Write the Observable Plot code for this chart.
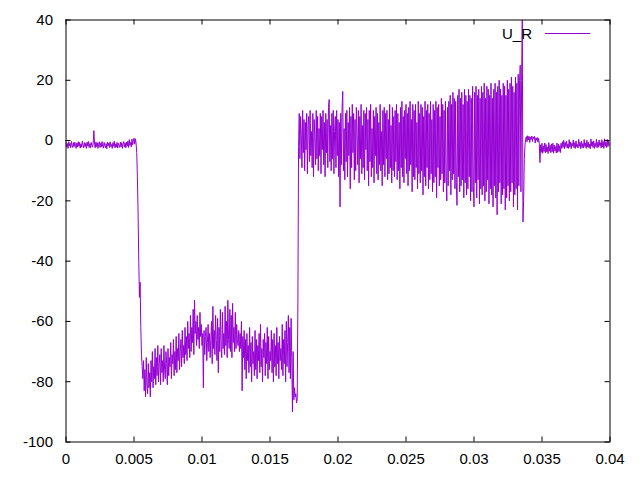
<!DOCTYPE html>
<html>
<head>
<meta charset="utf-8">
<script src="https://cdn.jsdelivr.net/npm/d3@7"></script>
<script src="https://cdn.jsdelivr.net/npm/@observablehq/plot@0.6"></script>
<style>
  html, body { margin: 0; padding: 0; background: white; }
</style>
</head>
<body>
<div id="chart"></div>
<script>
// ---- data ----
const seriesName = "U_R";
const lineColor = "#9400d3";
const sampleStep = 0.00005; // seconds between samples, starting at t = 0

// t = 0 .. 0.00515
const preFault = [
  -0.6,-2.2,-1.0,-2.6,-0.4,-1.8,-0.9,-2.4,-0.3,-1.5,
  -2.3,-0.7,-2.0,-0.5,-1.7,-2.6,-0.8,-2.1,-0.4,-1.9,
  -0.6,-2.5,-1.1,-2.2,-0.2,-1.6,-2.4,-0.7,-2.0,-0.9,
  -2.6,-0.5,-1.8,-0.3,-2.3,-1.0,-2.5,-0.6,-1.7,-2.2,
  -0.8,3.3,-1.4,-2.4,-0.5,-2.0,-0.7,-2.6,-1.2,-0.4,
  -2.3,-0.9,-2.1,-0.3,-1.9,-2.5,-0.6,-1.6,-2.4,-1.0,
  -2.7,-0.5,-1.8,-0.8,-2.3,-0.4,-2.0,-1.3,-2.6,-0.7,
  -1.9,-0.2,-2.4,-1.1,-2.2,-0.6,-2.5,-0.9,-1.7,-2.3,
  -0.5,-2.1,-0.7,-2.6,-1.0,-0.3,-2.2,-0.8,-2.4,-0.5,
  -1.8,-0.2,-2.3,0.3,-1.6,-0.6,-2.1,0.5,-1.4,-0.4,
  0.8,-1.2,0.6,-0.8
];
// t = 0.0052 .. 0.0056
const drop = [-4,-12,-24,-40,-52,-47,-62,-71,-75];
// t = 0.00565 .. 0.01705
const faultLow = [
  -79,-73,-83,-76,-85,-72,-81,-84,-74,-82,
  -77,-85,-73,-80,-70,-82,-75,-79,-69,-81,
  -72,-78,-68,-80,-74,-71,-81,-69,-77,-73,
  -80,-68,-76,-79,-70,-74,-81,-69,-78,-72,
  -75,-67,-79,-71,-74,-66,-78,-70,-76,-65,
  -77,-69,-73,-64,-76,-70,-66,-75,-63,-72,
  -68,-74,-62,-71,-65,-73,-60,-69,-64,-72,
  -58,-70,-62,-67,-56,-71,-53,-64,-60,-68,
  -58,-66,-62,-69,-57,-65,-61,-68,-64,-82,
  -63,-71,-65,-62,-73,-67,-61,-70,-64,-72,
  -66,-60,-74,-55,-69,-63,-71,-58,-66,-73,
  -59,-77,-62,-70,-56,-68,-72,-57,-69,-64,
  -71,-55,-68,-60,-72,-53,-66,-69,-56,-70,
  -58,-72,-54,-67,-62,-70,-57,-69,-61,-66,
  -68,-63,-70,-64,-69,-60,-83,-65,-72,-63,
  -76,-66,-79,-64,-73,-68,-77,-62,-75,-67,
  -80,-65,-74,-70,-78,-63,-76,-66,-79,-68,
  -73,-64,-77,-61,-75,-69,-80,-66,-72,-64,
  -78,-67,-74,-62,-79,-65,-76,-70,-73,-63,
  -77,-66,-80,-64,-75,-68,-78,-62,-74,-67,
  -79,-65,-73,-69,-76,-61,-78,-66,-74,-63,
  -80,-60,-75,-67,-58,-77,-62,-79,-59,-72,
  -90,-70,-86,-82,-85,-84,-87,-86,-54
];
// t = 0.0171 .. 0.03350
const faultHigh = [
  -2,9,-6,8,2,-9,10,-4,7,-10,
  6,-3,9,-11,5,8,-7,10,-5,3,
  -9,9,-12,7,1,-8,10,-6,8,-10,
  4,-5,9,-11,8,-3,10,-8,6,-12,
  9,-4,7,-9,11,13.6,-7,5,-10,9,
  -6,10,-11,3,8,-9,10,-5,7,-12,
  6,-22,9,-8,11,16.3,-10,4,-13,9,
  -7,10,-12,6,-5,11,-16,8,-9,12,
  -4,9,-13,7,-10,11,2,-8,10,-14,
  8,-6,12,-11,5,-9,10,-13,9,-3,
  11,-10,7,-15,10,-7,12,-12,4,-9,
  10,-14,8,-5,11,-11,9,-13,6,-8,
  12,-10,3,-15,10,-8,11,-12,9,-6,
  10,-13,7,-11,12,-9,5,-14,11,-10,
  8,-12,10,-7,12,-13,9,-10,6,-16,
  11,-9,13,-12,8,-14,10,-6,12,-11,
  9,-15,11,-10,13,-8,7,-17,12,-12,
  10,-13,12,-9,6,-16,13,-11,9,-14,
  12,-10,11,-18,8,-12,13,-15,10,-9,
  12,-16,9,-13,13,-11,7,-17,12,-14,
  10,-12,13,-19,11,-9,12,-15,8,-13,
  14,-11,12,-17,10,-14,13,-12,-20,11,
  -15,13,-10,15,-18,12,-13,16,-11,14,
  -16,13,-14,-21.5,15,-12,17,-17,14,-15,
  16,-13,12,-19,17,-14,15,-18,13,-16,
  17,-12,15,-20,14,-17,18,-15,-22,16,
  -14,18,-19,15,-13,17,-21,14,-16,18,
  -18,16,-15,19,-20,14,-17,18,-13,17,
  -21,15,-16,19,-18,14,-22,17,-15,19,
  -19,16,-24.6,18,-17,20,-14,17,-21,15,
  -18,19,-16,18,-23,15,-19,20,-15,17,
  -20,19,-17,21,-14,18,-22,16,-18,21,
  -16,19,-23,22,-15,20,25,-17,20
];
// t = 0.03355 .. 0.03375
const spike = [40, -27, -20, -6, -1.5];
// t = 0.0338 .. 0.0400
const postFault = [
  0.5,1.3,-0.4,1.6,0.2,1.4,-0.6,1.1,0.4,1.5,
  -0.3,1.2,0.6,1.4,-0.8,0.9,0.1,1.0,-0.5,0.7,
  -1.0,-7.3,-1.4,-3.9,-0.9,-4.2,-1.8,-3.6,-0.8,-4.1,
  -1.3,-3.8,-2.2,-4.3,-0.7,-3.5,-1.6,-4.0,-1.1,-3.7,
  -0.9,-4.2,-1.5,-3.4,-2.0,-4.1,-0.8,-3.9,-1.2,-3.6,
  -1.7,-4.0,-0.9,-2.6,-0.4,-2.3,0.1,-2.7,-0.6,-2.0,
  -0.2,-2.5,-1.1,-2.6,0.3,-2.2,-0.5,-2.7,-0.9,-1.8,
  0.2,-2.4,-0.7,-2.6,-0.1,-2.1,-1.3,-2.5,0.4,-1.9,
  -0.6,-2.7,-0.2,-2.3,-1.0,-2.5,0.3,-2.0,-0.8,-2.6,
  0.1,-2.2,-0.5,-2.4,-1.2,-2.7,0.5,-1.8,-0.4,-2.3,
  -0.1,-2.6,-0.9,-2.0,0.4,-2.4,-0.6,-2.2,0.2,-1.7,
  -0.7,-2.5,0.3,-2.1,-0.3,-2.6,0.6,-1.9,-0.5,-2.3,
  0.4,-2.0,-0.2,-1.6,-0.8
];

const xTicks = [0, 0.005, 0.01, 0.015, 0.02, 0.025, 0.03, 0.035, 0.04];
const xTickLabels = ["0", "0.005", "0.01", "0.015", "0.02", "0.025", "0.03", "0.035", "0.04"];
const yTicks = [-100, -80, -60, -40, -20, 0, 20, 40];
const yTickLabels = ["-100", "-80", "-60", "-40", "-20", "0", "20", "40"];

// ---- build table ----
const uR = [preFault, drop, faultLow, faultHigh, spike, postFault].flat();
const table = uR.map((u, i) => ({t: i * sampleStep, u}));

const W = 640, H = 480;
const mL = 65.5, mR = 30.5, mT = 19.5, mB = 38.5;
const plotW = W - mL - mR, plotH = H - mT - mB;
const tickLen = 5;

function legendMark(index, scales, values, dims) {
  const g = d3.create("svg:g");
  const xr = dims.width - dims.marginRight;
  const y = dims.marginTop + 14;
  g.append("text")
    .attr("x", xr - 77.5).attr("y", y).attr("dy", "0.35em")
    .attr("text-anchor", "end").attr("fill", "black")
    .text(seriesName);
  g.append("line")
    .attr("x1", xr - 64.5).attr("x2", xr - 19.5)
    .attr("y1", y).attr("y2", y)
    .attr("stroke", lineColor).attr("stroke-width", 1)
    .style("stroke", lineColor);
  return g.node();
}

const chart = Plot.plot({
  width: W, height: H,
  marginLeft: mL, marginRight: mR, marginTop: mT, marginBottom: mB,
  style: "background: white; color: black; font: 15px 'Liberation Sans', Arial, sans-serif;",
  x: {domain: [0, 0.04]},
  y: {domain: [-100, 40]},
  marks: [
    Plot.line(table, {x: "t", y: "u", stroke: lineColor, strokeWidth: 1, clip: true}),
    // inward ticks on all four sides (gnuplot style)
    Plot.tickX(xTicks, {x: d => d, stroke: "black", insetTop: plotH - tickLen}),
    Plot.tickX(xTicks, {x: d => d, stroke: "black", insetBottom: plotH - tickLen}),
    Plot.tickY(yTicks, {y: d => d, stroke: "black", insetRight: plotW - tickLen}),
    Plot.tickY(yTicks, {y: d => d, stroke: "black", insetLeft: plotW - tickLen}),
    Plot.axisX({ticks: xTicks, tickFormat: (d, i) => xTickLabels[i], tickSize: 0, tickPadding: 11.5, label: null}),
    Plot.axisY({ticks: yTicks, tickFormat: (d, i) => yTickLabels[i], tickSize: 0, tickPadding: 13, label: null}),
    Plot.frame({stroke: "black", strokeWidth: 1}),
    legendMark
  ]
});
document.getElementById("chart").appendChild(chart);
</script>
</body>
</html>
